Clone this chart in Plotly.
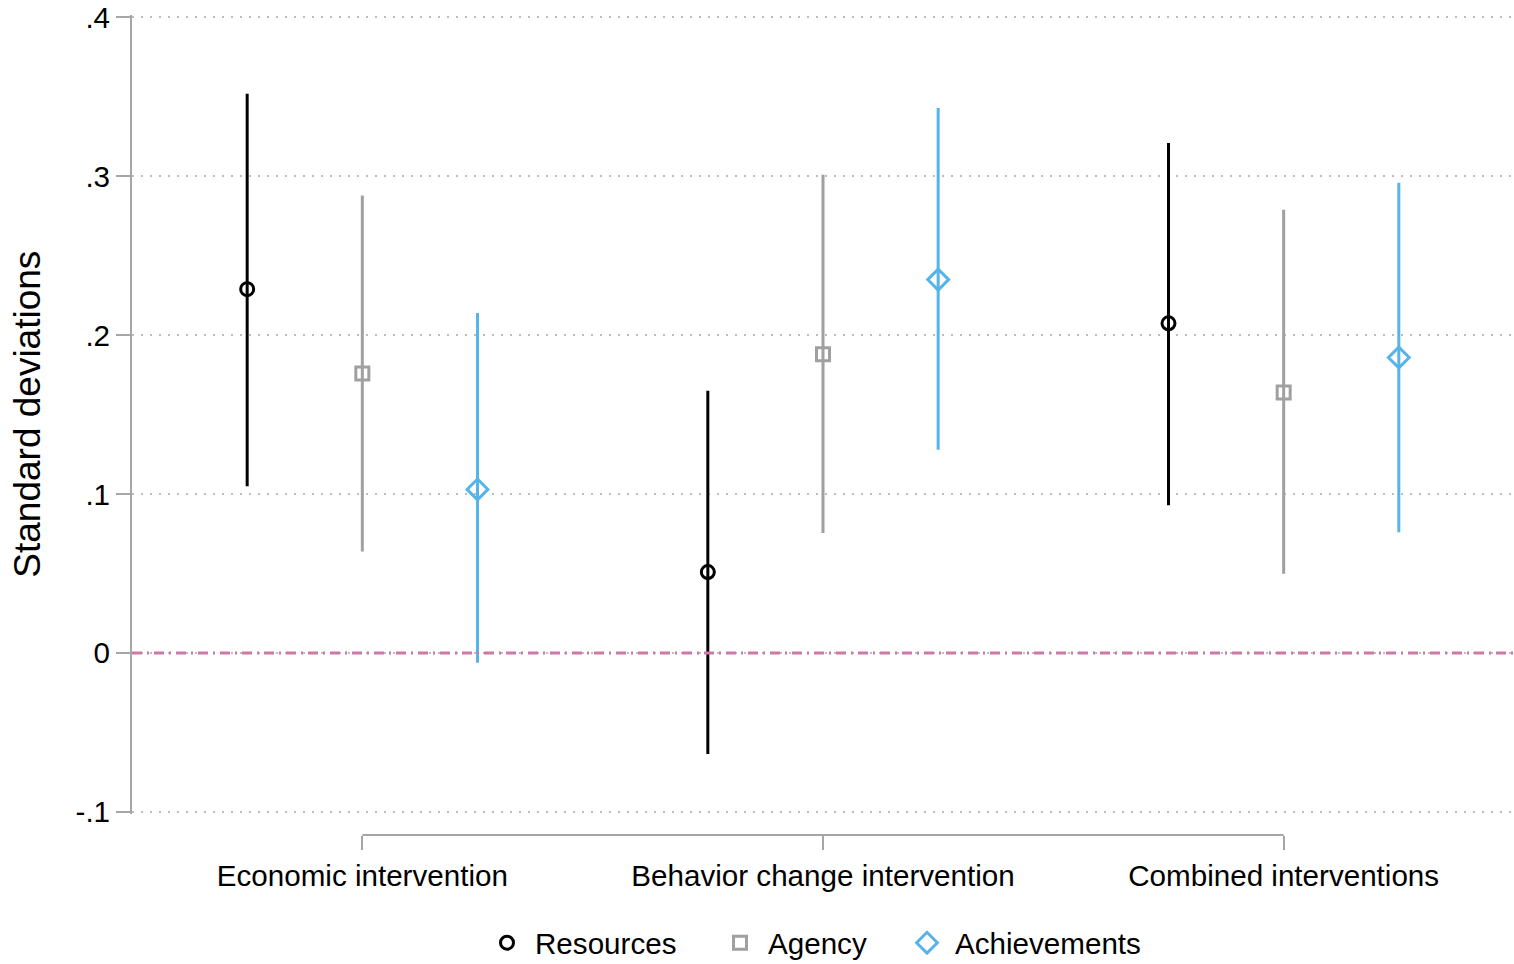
import plotly.graph_objects as go

categories = ["Economic intervention", "Behavior change intervention", "Combined interventions"]
series = ["Resources", "Agency", "Achievements"]

resources_est = [0.229, 0.051, 0.2075]
resources_lo = [0.105, -0.0635, 0.093]
resources_hi = [0.352, 0.165, 0.321]

agency_est = [0.176, 0.188, 0.164]
agency_lo = [0.064, 0.0755, 0.050]
agency_hi = [0.288, 0.301, 0.279]

achieve_est = [0.103, 0.235, 0.186]
achieve_lo = [-0.006, 0.128, 0.076]
achieve_hi = [0.214, 0.343, 0.296]

ytick_vals = [-0.1, 0, 0.1, 0.2, 0.3, 0.4]
ytick_text = ["-.1", "0", ".1", ".2", ".3", ".4"]

offsets = [-0.25, 0.0, 0.25]
colors = ["#000000", "#a0a0a0", "#56b4e9"]
symbols = ["circle-open", "square-open", "diamond-open"]
sizes = [13, 13, 16]

FONT = "Liberation Sans, Arial, sans-serif"
FS = 29.6
W, H = 1514, 964
Y_MIN, Y_MAX = -0.1, 0.4
TOP_TICK_PX, BOT_TICK_PX = 17, 812
PAD = 0.0015
ppu = (BOT_TICK_PX - TOP_TICK_PX) / (Y_MAX - Y_MIN)
MB, ML, MR = 100, 132, 0
MT = TOP_TICK_PX - PAD * ppu
paper_h = H - MT - MB
paper_w = W - ML - MR
paper_bottom_px = H - MB
ydom0 = (paper_bottom_px - (BOT_TICK_PX + PAD * ppu)) / paper_h
xaxis_pos = (paper_bottom_px - 835) / paper_h


def px_x(sx):
    return (sx - ML) / paper_w


def px_y(sy):
    return (paper_bottom_px - sy) / paper_h


fig = go.Figure()
data = [
    (resources_est, resources_lo, resources_hi),
    (agency_est, agency_lo, agency_hi),
    (achieve_est, achieve_lo, achieve_hi),
]
legend_ids = ["legend", "legend2", "legend3"]
for i, (est, lo, hi) in enumerate(data):
    xs = [k + 1 + offsets[i] for k in range(len(categories))]
    fig.add_trace(go.Scatter(
        x=xs, y=est, mode="markers", name=series[i], legend=legend_ids[i],
        marker=dict(symbol=symbols[i], size=sizes[i], color=colors[i],
                    line=dict(width=3, color=colors[i])),
        error_y=dict(type="data", symmetric=False,
                     array=[h - e for h, e in zip(hi, est)],
                     arrayminus=[e - l for e, l in zip(est, lo)],
                     width=0, thickness=3, color=colors[i]),
    ))

# zero reference line
fig.add_shape(type="line", xref="paper", x0=0, x1=1, yref="y", y0=0, y1=0,
              line=dict(color="#cc79a7", width=3, dash="10px,5px,2px,5px"), layer="above")
# x-axis line spanning first to last category
fig.add_shape(type="line", xref="x", x0=1, x1=len(categories), yref="paper",
              y0=xaxis_pos, y1=xaxis_pos, line=dict(color="#a6a6a6", width=2))

fig.add_annotation(text="Standard deviations", textangle=-90, xref="paper", yref="paper",
                   x=px_x(28), y=px_y(414.5),
                   xanchor="center", yanchor="middle", showarrow=False,
                   font=dict(family=FONT, size=37, color="#000000"))

legend_sym_x = [507, 740, 927]
leg_common = dict(orientation="h", xanchor="left", yanchor="middle",
                  font=dict(size=FS, family=FONT), itemwidth=46,
                  bgcolor="rgba(0,0,0,0)", borderwidth=0)
leg_y = px_y(943)

fig.update_layout(
    width=W, height=H,
    margin=dict(l=ML, r=MR, t=MT, b=MB, autoexpand=False),
    paper_bgcolor="white", plot_bgcolor="white",
    font=dict(family=FONT, size=FS, color="#000000"),
    showlegend=True,
    legend=dict(x=px_x(legend_sym_x[0] - 28), y=leg_y, **leg_common),
    legend2=dict(x=px_x(legend_sym_x[1] - 28), y=leg_y, **leg_common),
    legend3=dict(x=px_x(legend_sym_x[2] - 28), y=leg_y, **leg_common),
    xaxis=dict(range=[0.5, 3.5], tickvals=[1, 2, 3], ticktext=categories,
               showgrid=False, zeroline=False, showline=False,
               ticks="outside", ticklen=14, tickwidth=2, tickcolor="#a6a6a6",
               anchor="free", position=xaxis_pos, ticklabelstandoff=0,
               tickfont=dict(size=FS)),
    yaxis=dict(range=[Y_MIN - PAD, Y_MAX + PAD], domain=[ydom0, 1],
               tickvals=ytick_vals, ticktext=ytick_text,
               showgrid=True, gridcolor="#bdbdbd", gridwidth=2, griddash="2px,7px",
               zeroline=False, showline=True, linecolor="#a6a6a6", linewidth=2,
               ticks="outside", ticklen=14, tickwidth=2, tickcolor="#a6a6a6",
               ticklabeloverflow="allow", tickfont=dict(size=FS)),
)

fig.write_html("out.html", config={"displayModeBar": False},
               post_script="document.body.style.margin='0';")
